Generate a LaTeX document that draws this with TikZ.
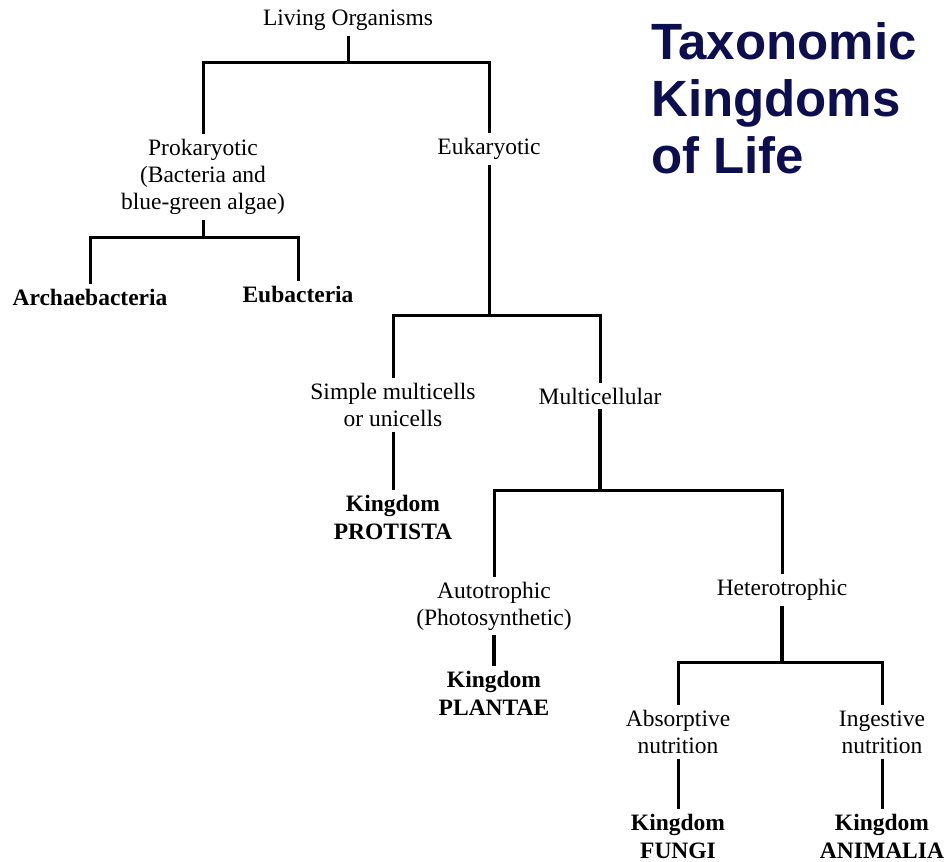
\documentclass[tikz,border=0pt]{standalone}
\usepackage{fontspec}
\setmainfont{Liberation Serif}
\newfontfamily\titlefont{Liberation Sans}
\usetikzlibrary{positioning}
\definecolor{titleblue}{RGB}{12,14,80}

\begin{document}
\begin{tikzpicture}[x=1pt,y=-1pt,
    taxon/.style={align=center,font=\fontsize{23.5}{27}\selectfont,inner sep=5pt},
    kingdom/.style={taxon,font=\fontsize{23.5}{28}\selectfont\bfseries},
    branch/.style={line width=3pt},
    trunk/.style={line width=4.5pt}]
\useasboundingbox (0,0) rectangle (951,862);

\node[anchor=north west,inner sep=0pt,align=left,text=titleblue,
      font=\titlefont\fontsize{51}{57}\selectfont\bfseries] (title) at (651,22)
      {Taxonomic\\Kingdoms\\of Life};

\node[taxon] (living) at (348,20) {Living Organisms};
\node[taxon] (prok) at (203,177) {Prokaryotic\\(Bacteria and\\blue-green algae)};
\node[taxon] (euk) at (489,149) {Eukaryotic};
\node[kingdom] (arch) at (90,297) {Archaebacteria};
\node[kingdom] (eub) at (298,294) {Eubacteria};
\node[taxon] (simple) at (393,405) {Simple multicells\\or unicells};
\node[taxon] (multi) at (600,396) {Multicellular};
\node[kingdom] (protista) at (393,517) {Kingdom\\PROTISTA};
\node[taxon] (auto) at (494,606) {Autotrophic\\(Photosynthetic)};
\node[taxon] (hetero) at (782,590) {Heterotrophic};
\node[kingdom] (plantae) at (494,693) {Kingdom\\PLANTAE};
\node[taxon] (absorp) at (678,732) {Absorptive\\nutrition};
\node[taxon] (ingest) at (882,732) {Ingestive\\nutrition};
\node[kingdom] (fungi) at (678,836) {Kingdom\\FUNGI};
\node[kingdom] (animalia) at (882,836) {Kingdom\\ANIMALIA};

\coordinate (j0) at (348,62);
\coordinate (j1) at (203,237);
\coordinate (j2) at (489,315);
\coordinate (j3) at (600,490);
\coordinate (j4) at (782,662);

\draw[branch] (living.south) -- (j0);
\draw[branch] (prok.north) |- (j0) -| (euk.north);
\draw[branch] (prok.south) -- (j1);
\draw[branch] (arch.north) |- (j1) -| (eub.north);
\draw[branch] (euk.south) -- (j2);
\draw[branch] (simple.north) |- (j2) -| (multi.north);
\draw[branch] (simple.south) -- (protista.north);
\draw[trunk] (multi.south) -- (j3);
\draw[branch] (auto.north) |- (j3) -| (hetero.north);
\draw[trunk] (auto.south) -- (plantae.north);
\draw[trunk] (hetero.south) -- (j4);
\draw[branch] (absorp.north) |- (j4) -| (ingest.north);
\draw[branch] (absorp.south) -- (fungi.north);
\draw[branch] (ingest.south) -- (animalia.north);
\end{tikzpicture}
\end{document}
